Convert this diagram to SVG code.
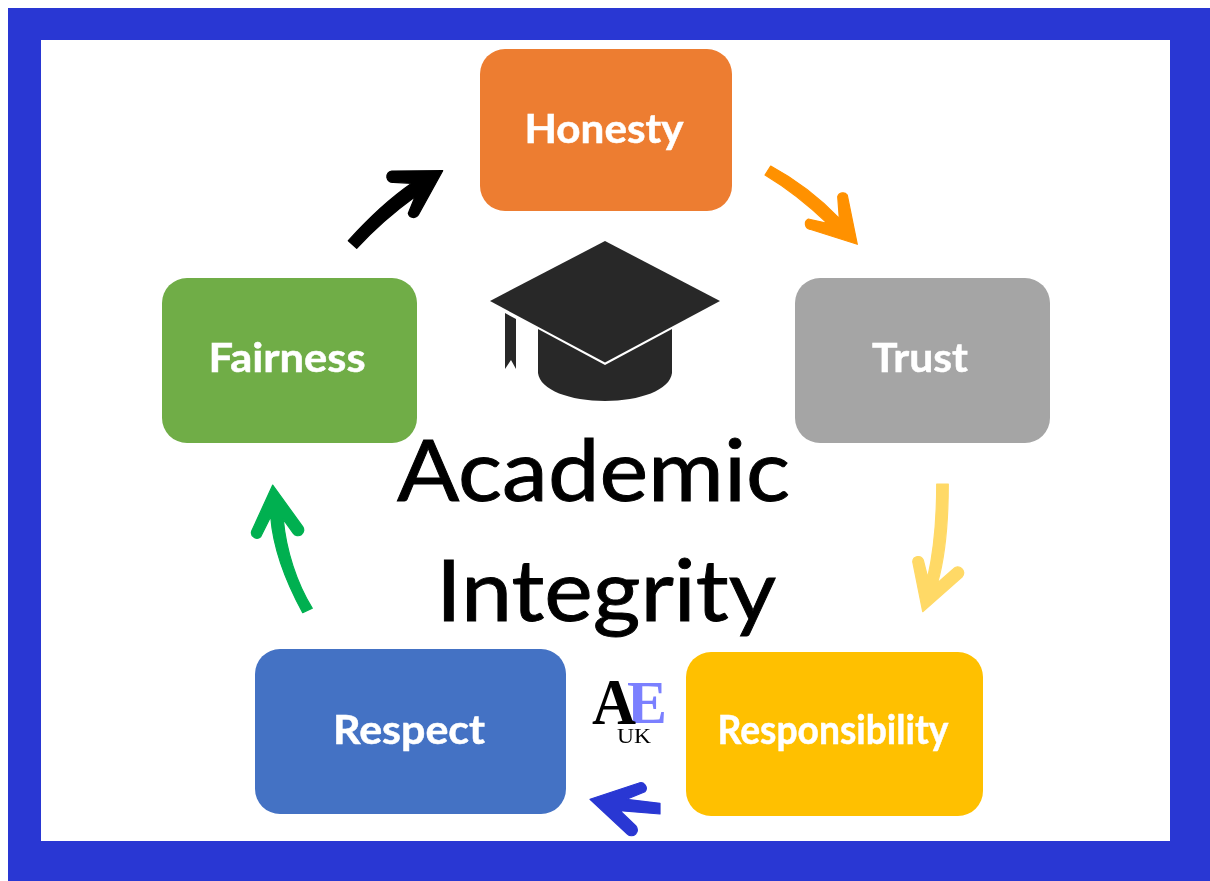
<svg xmlns="http://www.w3.org/2000/svg" width="1210" height="881" viewBox="0 0 1210 881">
<style>
.lbl{font-family:"Lato","Open Sans",sans-serif;font-weight:700;font-size:41px;fill:#fff;stroke:#fff;stroke-width:.5;text-anchor:middle}
.big{font-family:"Lato","Open Sans",sans-serif;font-size:85px;fill:#000;stroke:#000;stroke-width:.9}
.serif{font-family:"Liberation Serif",serif}
.arr{stroke-width:1.2;stroke-linejoin:round}
</style>
<rect width="1210" height="881" fill="#fff"/>
<path fill="#2937d3" fill-rule="evenodd" d="M8,8H1210V881H8ZM41,40V841H1170V40Z"/>
<g id="honesty"><rect x="480" y="49" width="252" height="162" rx="25" fill="#ed7d31"/><text class="lbl" x="604" y="143" textLength="159" lengthAdjust="spacingAndGlyphs">Honesty</text></g>
<g id="trust"><rect x="795" y="278" width="255" height="165" rx="25" fill="#a5a5a5"/><text class="lbl" x="920" y="372" textLength="96" lengthAdjust="spacingAndGlyphs">Trust</text></g>
<g id="responsibility"><rect x="686" y="652" width="297" height="164" rx="25" fill="#ffc000"/><text class="lbl" x="833" y="744" textLength="231" lengthAdjust="spacingAndGlyphs">Responsibility</text></g>
<g id="respect"><rect x="255" y="649" width="311" height="165" rx="25" fill="#4472c4"/><text class="lbl" x="409" y="744" textLength="152" lengthAdjust="spacingAndGlyphs">Respect</text></g>
<g id="fairness"><rect x="162" y="278" width="255" height="165" rx="25" fill="#70ad47"/><text class="lbl" x="287" y="372" textLength="157" lengthAdjust="spacingAndGlyphs">Fairness</text></g>
<g id="cap" fill="#282828">
<path d="M538,329V373C540,390 570,401 605,401C640,401 670,390 672,373V329L605,365Z"/>
<path d="M505,313L516,319V369L511,360L505,369Z"/>
<path d="M605,241L720,301L605,362.5L490,301Z"/>
</g>
<g id="title">
<text class="big" x="397" y="501" textLength="393" lengthAdjust="spacingAndGlyphs">Academic</text>
<text class="big" x="436" y="621" textLength="340" lengthAdjust="spacingAndGlyphs">Integrity</text>
</g>
<g id="logo" class="serif">
<text x="592" y="724" font-size="65" font-weight="700" fill="#000" textLength="44" lengthAdjust="spacingAndGlyphs">A</text>
<text x="627" y="723" font-size="62" font-weight="700" fill="#7b80ff" textLength="40" lengthAdjust="spacingAndGlyphs" style="mix-blend-mode:multiply">E</text>
<text x="617" y="743" font-size="22" fill="#000" textLength="34" lengthAdjust="spacingAndGlyphs">UK</text>
</g>
<g id="connectors">
<path class="arr" fill="#ff9100" stroke="#ff9100" d="M770.7,166C796.7,180 820,198.3 839.3,218.3L837.7,196.7A5.5,5.5 0 0 1 847.3,195L857.3,244.3L810,229.3A5.5,5.5 0 0 1 808.3,219L827.3,223.3C810,206.7 790,190 765,175Z"/>
<path class="arr" fill="#ffd966" stroke="#ffd966" d="M936.7,484H948.3C948.3,520 945,556.7 937.7,582.7L953.3,569A5.5,5.5 0 0 1 962.3,576.7L922.7,611.7L912.7,561.7A5.5,5.5 0 0 1 923.3,560L927.7,577.3C933.3,553.3 936.7,520 936.7,484Z"/>
<path class="arr" fill="#2937d3" stroke="#2937d3" d="M590,799.3L638.3,783.3A5.5,5.5 0 0 1 645,791.7L626.7,799.3L660,803.3V814L620,810.7L635.7,825.7A5.5,5.5 0 0 1 627.3,834Z"/>
<path class="arr" fill="#00b050" stroke="#00b050" d="M272.7,485L302.7,526.7A5.5,5.5 0 0 1 293.3,533.3L283.3,519.3C286,550 296.7,583.3 312.3,608.3L302.7,612.7C286.7,583.3 273.3,550 270.7,516.7L260.7,536.7A5.5,5.5 0 0 1 251.7,531Z"/>
<path class="arr" fill="#000" stroke="#000" d="M348.3,240.7C370,216.7 390,198.3 411.7,183.3L393.3,182.3A5.5,5.5 0 0 1 391.7,171L442.7,170.7L418.3,215A5.5,5.5 0 0 1 408.3,213.3L415,196.7C396.7,210 375,228.3 356.7,248.3Z"/>
</g>
</svg>
